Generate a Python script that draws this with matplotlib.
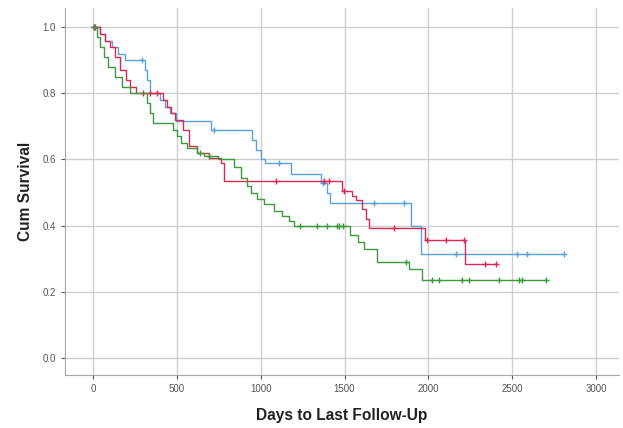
import numpy as np
import matplotlib
matplotlib.use("Agg")
import matplotlib.pyplot as plt

plt.rcParams['font.family'] = ['Liberation Sans', 'DejaVu Sans']

# step times (days) and survival after each step, censor times
blue_t = [0, 42, 71, 113, 149, 190, 309, 321, 339, 398, 428, 458, 493, 707, 951, 974, 1004, 1028,
          1182, 1361, 1396, 1414, 1895, 1955]
blue_s = [1.0, 0.98, 0.96, 0.94, 0.92, 0.90, 0.87, 0.84, 0.80, 0.78, 0.76, 0.74, 0.715, 0.69, 0.66,
          0.63, 0.60, 0.59, 0.557, 0.53, 0.50, 0.467, 0.40, 0.315]
blue_c = [10, 291, 725, 1111, 1370, 1676, 1854, 2163, 2525, 2585, 2810]

red_t = [0, 42, 71, 101, 131, 160, 196, 220, 255, 416, 440, 463, 487, 535, 576, 618, 695, 766, 784,
         1485, 1545, 1569, 1604, 1628, 1646, 1979, 2216]
red_s = [1.0, 0.98, 0.96, 0.94, 0.91, 0.87, 0.84, 0.82, 0.80, 0.78, 0.76, 0.74, 0.72, 0.69, 0.64,
         0.62, 0.605, 0.59, 0.535, 0.506, 0.49, 0.476, 0.45, 0.42, 0.394, 0.355, 0.285]
red_c = [5, 15, 297, 339, 380, 1093, 1378, 1408, 1497, 1794, 1990, 2103, 2210, 2335, 2400]

green_t = [0, 24, 42, 65, 89, 131, 172, 220, 321, 339, 356, 475, 499, 523, 564, 618, 665, 743, 844,
           885, 921, 945, 980, 1022, 1081, 1129, 1171, 1200, 1533, 1580, 1616, 1693, 1884, 1961]
green_s = [1.0, 0.97, 0.94, 0.91, 0.88, 0.85, 0.82, 0.80, 0.77, 0.74, 0.71, 0.69, 0.67, 0.65, 0.635,
           0.62, 0.61, 0.60, 0.576, 0.545, 0.52, 0.50, 0.48, 0.465, 0.445, 0.43, 0.415, 0.40, 0.37,
           0.35, 0.33, 0.29, 0.27, 0.235]
green_c = [8, 640, 690, 1236, 1337, 1396, 1456, 1468, 1491, 1866, 2020, 2062, 2198, 2240, 2418,
           2537, 2555, 2698]

groups = [
    (blue_t, blue_s, blue_c, '#5aa2e0'),
    (red_t, red_s, red_c, '#d82a55'),
    (green_t, green_s, green_c, '#3c9c3c'),
]

fig = plt.figure(figsize=(6.23, 4.28), dpi=100)
ax = fig.add_axes([0.104, 0.124, 0.89, 0.857])

for t, s, c, col in groups:
    t = np.array(t, dtype=float)
    s = np.array(s)
    end = max(t[-1], max(c))
    tt = np.append(t, end)
    ss = np.append(s, s[-1])
    ax.step(tt, ss, where='post', color=col, lw=1.0)
    # censor marks sit on the curve at their time
    idx = np.searchsorted(t, c, side='right') - 1
    ax.plot(c, s[idx], '+', color=col, ms=5, mew=1.0, ls='none')

ax.set_xlim(-167, 3137)
ax.set_ylim(-0.052, 1.058)
ax.set_xticks(np.arange(0, 3001, 500))
ax.set_yticks(np.arange(0, 1.01, 0.2))
ax.set_yticklabels(['%.1f' % v for v in np.arange(0, 1.01, 0.2)])
ax.grid(True, color='#cfcfcf', lw=1.0)
ax.set_axisbelow(True)
for sp in ['top', 'right']:
    ax.spines[sp].set_visible(False)
for sp in ['left', 'bottom']:
    ax.spines[sp].set_color('#a8a8a8')
ax.tick_params(labelsize=7, colors='#555555', length=3)
ax.set_xlabel('Days to Last Follow-Up', fontsize=11.2, fontweight='bold', color='#222222', labelpad=10)
ax.set_ylabel('Cum Survival', fontsize=11.2, fontweight='bold', color='#222222', labelpad=7)

fig.savefig('out.png', dpi=100)
